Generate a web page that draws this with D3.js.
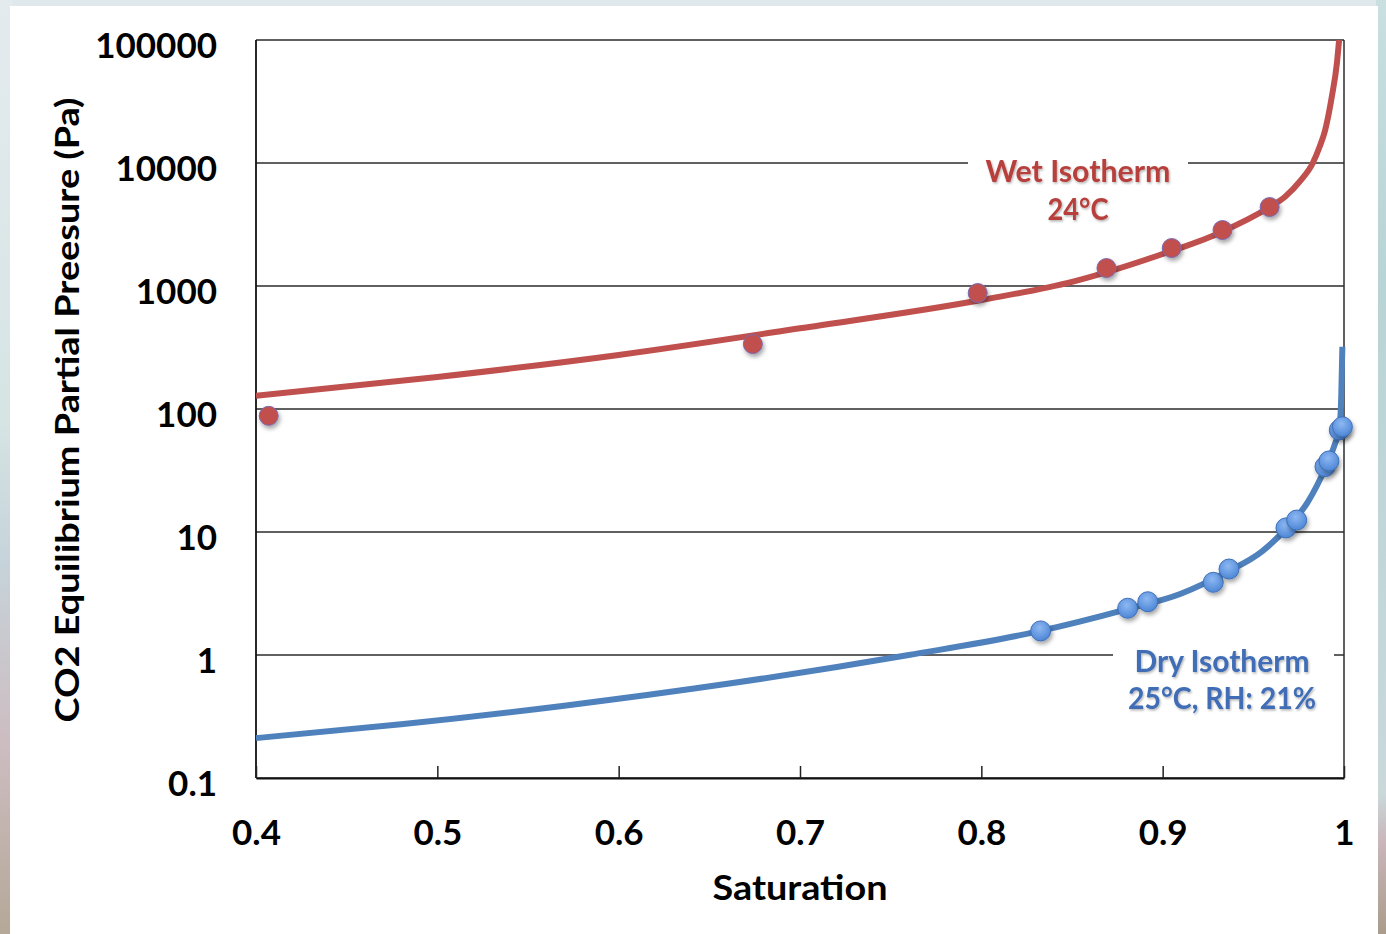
<!DOCTYPE html>
<html>
<head>
<meta charset="utf-8">
<script src="https://cdn.jsdelivr.net/npm/d3@7"></script>
<style>
  body { margin: 0; background: #dfe8ea; }
  svg { display: block; }
</style>
</head>
<body>
<script>
/*
Chart data
*/
var xTicks = [0.4, 0.5, 0.6, 0.7, 0.8, 0.9, 1];
var xTickLabels = ["0.4", "0.5", "0.6", "0.7", "0.8", "0.9", "1"];
var yTicks = [0.1, 1, 10, 100, 1000, 10000, 100000];
var yTickLabels = ["0.1", "1", "10", "100", "1000", "10000", "100000"];

// wet isotherm, measured points
var wetX = [0.407, 0.674, 0.798, 0.869, 0.905, 0.933, 0.959];
var wetY = [88, 337, 877, 1400, 2035, 2850, 4385];
// wet isotherm, fitted curve
var wetCurveX = [0.4, 0.5, 0.6, 0.7, 0.8, 0.85, 0.9, 0.93, 0.959, 0.9675, 0.976, 0.9828, 0.9865, 0.9896, 0.9933, 0.9961, 0.9973];
var wetCurveY = [128, 182, 275, 453, 769, 1080, 1820, 2650, 4385, 5320, 7180, 10000, 13500, 18500, 34700, 65000, 100000];

// dry isotherm, measured points
var dryX = [0.8327, 0.8807, 0.8918, 0.9279, 0.9366, 0.968, 0.9739, 0.9895, 0.9917, 0.9974, 0.9991];
var dryY = [1.57, 2.4, 2.71, 3.9, 5.0, 10.8, 12.5, 34, 37.8, 67.5, 71.8];
// dry isotherm, fitted curve
var dryCurveX = [0.4, 0.48, 0.57, 0.66, 0.76, 0.83, 0.88, 0.91, 0.935, 0.955, 0.968, 0.98, 0.99, 0.995, 0.9975, 0.9985, 0.9991];
var dryCurveY = [0.211, 0.273, 0.387, 0.583, 1.0, 1.54, 2.35, 3.15, 4.7, 7.0, 10.6, 17.5, 34, 52, 70, 130, 321];

var xTitle = "Saturation";
var yTitle = "CO2 Equilibrium Partial Preesure (Pa)";
var wetLabel = ["Wet Isotherm", "24°C"];
var dryLabel = ["Dry Isotherm", "25°C, RH: 21%"];

/*
Svg Width and Height
*/
var width = 1386,
    height = 934;

var svg = d3.select("body").append("svg")
    .attr("width", width)
    .attr("height", height);

var defs = svg.append("defs");

var bgLeft = defs.append("linearGradient").attr("id", "bgLeft")
    .attr("x1", 0).attr("y1", 0).attr("x2", 0).attr("y2", 1);
bgLeft.append("stop").attr("offset", "0").attr("stop-color", "#e4ebee");
bgLeft.append("stop").attr("offset", "0.45").attr("stop-color", "#d6e4e4");
bgLeft.append("stop").attr("offset", "0.6").attr("stop-color", "#c6d3da");
bgLeft.append("stop").attr("offset", "0.8").attr("stop-color", "#cdbcc0");
bgLeft.append("stop").attr("offset", "1").attr("stop-color", "#b5a898");

var bgRight = defs.append("linearGradient").attr("id", "bgRight")
    .attr("x1", 0).attr("y1", 0).attr("x2", 0).attr("y2", 1);
bgRight.append("stop").attr("offset", "0").attr("stop-color", "#c9dfe0");
bgRight.append("stop").attr("offset", "0.3").attr("stop-color", "#b9d4d6");
bgRight.append("stop").attr("offset", "0.85").attr("stop-color", "#cad8da");
bgRight.append("stop").attr("offset", "0.9").attr("stop-color", "#c9b7bb");
bgRight.append("stop").attr("offset", "1").attr("stop-color", "#a99c8c");

var shadow = defs.append("filter").attr("id", "shadow")
    .attr("x", "-50%").attr("y", "-50%").attr("width", "200%").attr("height", "200%");
shadow.append("feDropShadow")
    .attr("dx", 1.5).attr("dy", 3).attr("stdDeviation", 2)
    .attr("flood-color", "#000").attr("flood-opacity", 0.35);

var textShadow = defs.append("filter").attr("id", "textShadow")
    .attr("x", "-10%").attr("y", "-30%").attr("width", "120%").attr("height", "160%");
textShadow.append("feDropShadow")
    .attr("dx", 1).attr("dy", 1.5).attr("stdDeviation", 1.2)
    .attr("flood-color", "#000").attr("flood-opacity", 0.3);

var blueFill = defs.append("radialGradient").attr("id", "blueFill")
    .attr("cx", "45%").attr("cy", "35%").attr("r", "65%");
blueFill.append("stop").attr("offset", "0").attr("stop-color", "#8db8f2");
blueFill.append("stop").attr("offset", "1").attr("stop-color", "#4d86d6");

defs.append("clipPath").attr("id", "plotClip")
    .append("rect").attr("x", 256).attr("y", 38).attr("width", 1090).attr("height", 742);

// slide background strips
svg.append("rect").attr("x", 0).attr("y", 0).attr("width", width).attr("height", height).attr("fill", "#dfe8ea");
svg.append("rect").attr("x", 0).attr("y", 0).attr("width", 12).attr("height", height).attr("fill", "url(#bgLeft)");
svg.append("rect").attr("x", 1376).attr("y", 0).attr("width", 10).attr("height", height).attr("fill", "url(#bgRight)");
svg.append("rect").attr("x", 10).attr("y", 6).attr("width", 1368).attr("height", 928).attr("fill", "#fff");

var x = d3.scaleLinear()
    .domain([0.4, 1])
    .range([256, 1344]);

var y = d3.scaleLog()
    .domain([0.1, 100000])
    .range([778, 40]);

// gridlines
svg.append("g")
    .selectAll("line")
    .data(yTicks)
    .enter().append("line")
    .attr("x1", x(0.4)).attr("x2", x(1))
    .attr("y1", function(d){ return y(d); })
    .attr("y2", function(d){ return y(d); })
    .attr("stroke", "#2b2b2b")
    .attr("stroke-width", 1.5);

// right border
svg.append("line")
    .attr("x1", x(1)).attr("x2", x(1))
    .attr("y1", y(100000)).attr("y2", y(0.1))
    .attr("stroke", "#2b2b2b").attr("stroke-width", 1.5);

// left axis line
svg.append("line")
    .attr("x1", x(0.4)).attr("x2", x(0.4))
    .attr("y1", y(100000)).attr("y2", y(0.1))
    .attr("stroke", "#111").attr("stroke-width", 1.8);

// x axis with inward ticks
var xAxis = svg.append("g")
    .attr("transform", "translate(0," + y(0.1) + ")")
    .call(d3.axisBottom(x).tickValues(xTicks).tickSizeInner(-12).tickSizeOuter(0)
        .tickFormat(function(d, i){ return xTickLabels[i]; }));
xAxis.select(".domain").attr("stroke", "#111").attr("stroke-width", 1.8);
xAxis.selectAll(".tick line").attr("stroke", "#222").attr("stroke-width", 1.5);
xAxis.selectAll(".tick text")
    .attr("y", 42)
    .attr("dy", "0.71em")
    .style("font-family", "Lato, 'Open Sans', sans-serif")
    .style("font-weight", "bold")
    .style("font-size", "35px")
    .attr("fill", "#000");

// y axis labels
var yAxis = svg.append("g")
    .attr("transform", "translate(" + x(0.4) + ",0)")
    .call(d3.axisLeft(y).tickValues(yTicks).tickSize(0)
        .tickFormat(function(d, i){ return yTickLabels[i]; }));
yAxis.select(".domain").remove();
yAxis.selectAll(".tick text")
    .attr("x", -39)
    .attr("dy", "0.5em")
    .style("font-family", "Lato, 'Open Sans', sans-serif")
    .style("font-weight", "bold")
    .style("font-size", "35px")
    .attr("fill", "#000");

// axis titles
svg.append("text")
    .attr("x", 800).attr("y", 900)
    .attr("text-anchor", "middle")
    .attr("textLength", 175)
    .attr("lengthAdjust", "spacingAndGlyphs")
    .style("font-family", "Lato, 'Open Sans', sans-serif")
    .style("font-weight", "bold")
    .style("font-size", "35px")
    .text(xTitle);

svg.append("text")
    .attr("transform", "translate(79,410) rotate(-90)")
    .attr("text-anchor", "middle")
    .attr("textLength", 625)
    .attr("lengthAdjust", "spacingAndGlyphs")
    .style("font-family", "Lato, 'Open Sans', sans-serif")
    .style("font-weight", "bold")
    .style("font-size", "33px")
    .text(yTitle);

// curves
var line = d3.line()
    .x(function(d){ return x(d[0]); })
    .y(function(d){ return y(d[1]); })
    .curve(d3.curveMonotoneX);

var plot = svg.append("g").attr("clip-path", "url(#plotClip)");

plot.append("path")
    .datum(d3.zip(wetCurveX, wetCurveY))
    .attr("fill", "none")
    .attr("stroke", "#c0504d")
    .attr("stroke-width", 6)
    .attr("d", line);

plot.append("path")
    .datum(d3.zip(dryCurveX, dryCurveY))
    .attr("fill", "none")
    .attr("stroke", "#4f81bd")
    .attr("stroke-width", 6)
    .attr("d", line);

// points
svg.append("g")
    .selectAll("circle")
    .data(d3.zip(wetX, wetY))
    .enter().append("circle")
    .attr("cx", function(d){ return x(d[0]); })
    .attr("cy", function(d){ return y(d[1]); })
    .attr("r", 9.5)
    .attr("fill", "#c0504d")
    .attr("stroke", "#7a68b3")
    .attr("stroke-width", 1)
    .attr("filter", "url(#shadow)");

svg.append("g")
    .selectAll("circle")
    .data(d3.zip(dryX, dryY))
    .enter().append("circle")
    .attr("cx", function(d){ return x(d[0]); })
    .attr("cy", function(d){ return y(d[1]); })
    .attr("r", 10)
    .attr("fill", "url(#blueFill)")
    .attr("stroke", "#3d6fb8")
    .attr("stroke-width", 1)
    .attr("filter", "url(#shadow)");

// labels, with white boxes hiding the gridline behind
svg.append("rect").attr("x", 968).attr("y", 150).attr("width", 220).attr("height", 76).attr("fill", "#fff");
svg.append("rect").attr("x", 1113).attr("y", 642).attr("width", 221).attr("height", 76).attr("fill", "#fff");

var wetWidths = [185, 61];
var wetText = svg.append("text")
    .attr("text-anchor", "middle")
    .attr("fill", "#b7403d")
    .attr("filter", "url(#textShadow)")
    .style("font-family", "Lato, 'Open Sans', sans-serif")
    .style("font-weight", "bold")
    .style("font-size", "30px");
wetText.selectAll("tspan")
    .data(wetLabel)
    .enter().append("tspan")
    .attr("x", 1078)
    .attr("y", function(d, i){ return 182 + i * 38; })
    .attr("textLength", function(d, i){ return wetWidths[i]; })
    .attr("lengthAdjust", "spacingAndGlyphs")
    .text(function(d){ return d; });

var dryWidths = [175, 188];
var dryText = svg.append("text")
    .attr("text-anchor", "middle")
    .attr("fill", "#3f6db5")
    .attr("filter", "url(#textShadow)")
    .style("font-family", "Lato, 'Open Sans', sans-serif")
    .style("font-weight", "bold")
    .style("font-size", "30px");
dryText.selectAll("tspan")
    .data(dryLabel)
    .enter().append("tspan")
    .attr("x", 1222)
    .attr("y", function(d, i){ return 672 + i * 37; })
    .attr("textLength", function(d, i){ return dryWidths[i]; })
    .attr("lengthAdjust", "spacingAndGlyphs")
    .text(function(d){ return d; });
</script>
</body>
</html>
